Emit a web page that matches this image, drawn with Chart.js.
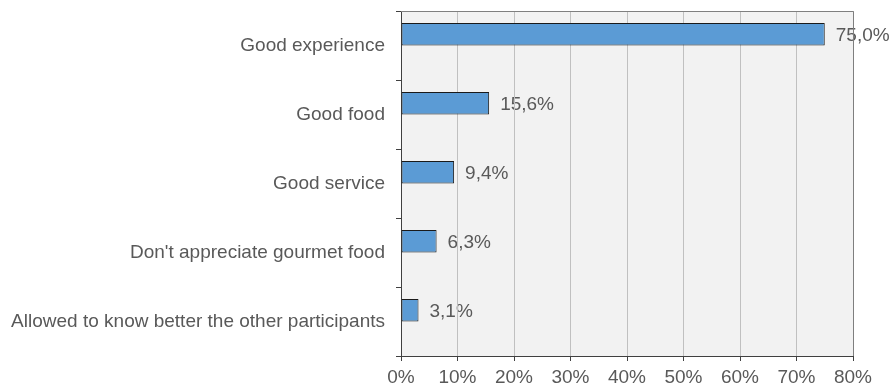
<!DOCTYPE html>
<html lang="en">
<head>
  <meta charset="UTF-8" />
  <title>Reasons</title>
  <script src="https://cdn.jsdelivr.net/npm/chart.js"></script>
  <style>
    html, body { margin: 0; padding: 0; background: #ffffff; }
    #wrap { width: 890px; height: 389px; }
  </style>
</head>
<body>
  <div id="wrap"><canvas id="reasonChart" width="890" height="389"></canvas></div>

  <script>
    const categories = [
      'Good experience',
      'Good food',
      'Good service',
      "Don't appreciate gourmet food",
      'Allowed to know better the other participants'
    ];
    const shares = [75.0, 15.6, 9.4, 6.3, 3.1];
    const spacer = [null, null, null, null, null];
    const xTicks = [0, 10, 20, 30, 40, 50, 60, 70, 80];

    const FONT = "'Liberation Sans', Arial, sans-serif";
    const TEXT = '#595959';
    const SIZE = 19;

    // plot background + value labels go under the grid, like the original
    const underlay = {
      id: 'underlay',
      beforeDraw(chart) {
        const { ctx, chartArea: a } = chart;
        ctx.save();
        ctx.fillStyle = '#f2f2f2';
        ctx.fillRect(a.left, a.top, a.right - a.left, a.bottom - a.top);
        ctx.font = SIZE + 'px ' + FONT;
        ctx.fillStyle = TEXT;
        ctx.textBaseline = 'middle';
        ctx.textAlign = 'left';
        chart.getDatasetMeta(0).data.forEach((bar, i) => {
          const txt = shares[i].toFixed(1).replace('.', ',') + '%';
          ctx.fillText(txt, bar.x + 11, bar.y + 1);
        });
        ctx.restore();
      },
      beforeDatasetsDraw(chart) {
        const { ctx, chartArea: a } = chart;
        ctx.save();
        ctx.strokeStyle = '#7f7f7f';
        ctx.lineWidth = 1;
        ctx.beginPath();
        ctx.moveTo(a.left, a.top + 0.5);
        ctx.lineTo(a.right + 0.5, a.top + 0.5);
        ctx.lineTo(a.right + 0.5, a.bottom);
        ctx.stroke();
        ctx.restore();
      }
    };

    new Chart(document.getElementById('reasonChart'), {
      type: 'bar',
      data: {
        labels: categories,
        datasets: [
          {
            data: shares,
            backgroundColor: '#5b9bd5',
            borderColor: '#1a1a1a',
            borderWidth: 1,
            borderSkipped: false,
            categoryPercentage: 0.65,
            barPercentage: 1
          },
          {
            data: spacer,
            categoryPercentage: 0.65,
            barPercentage: 1
          }
        ]
      },
      options: {
        indexAxis: 'y',
        responsive: false,
        animation: false,
        layout: { padding: { top: 11, right: 37, left: 0, bottom: 0 } },
        plugins: {
          legend: { display: false },
          tooltip: { enabled: false }
        },
        scales: {
          x: {
            min: 0,
            max: 80,
            afterBuildTicks: s => { s.ticks = xTicks.map(v => ({ value: v })); },
            afterFit: s => { s.height = 33; },
            grid: { color: '#c0c0c0', tickColor: '#404040', tickLength: 5, drawTicks: true },
            border: { color: '#404040', width: 1 },
            ticks: {
              color: TEXT,
              font: { family: FONT, size: SIZE },
              padding: 5,
              callback: v => v + '%'
            }
          },
          y: {
            afterFit: s => { s.width = 401; s.paddingTop = 0; s.paddingBottom = 0; },
            grid: { offset: true, drawOnChartArea: false, tickColor: '#404040', tickLength: 5 },
            border: { color: '#404040', width: 1 },
            ticks: {
              color: TEXT,
              font: { family: FONT, size: SIZE },
              padding: 11
            }
          }
        }
      },
      plugins: [underlay]
    });
  </script>
</body>
</html>
